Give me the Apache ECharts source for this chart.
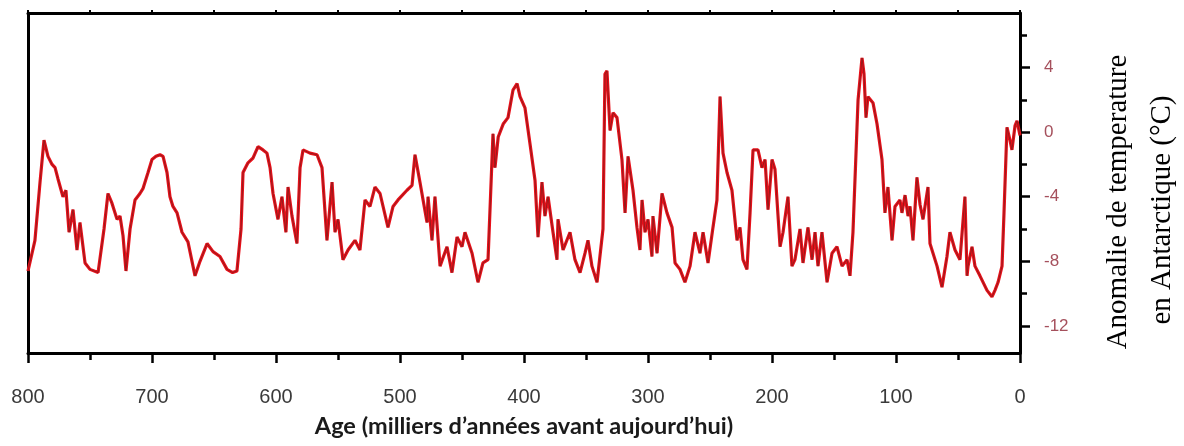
<!DOCTYPE html>
<html>
<head>
<meta charset="utf-8">
<script src="https://cdn.jsdelivr.net/npm/echarts/dist/echarts.min.js"></script>
<style>
html,body{margin:0;padding:0;background:#fff;}
#chart{width:1184px;height:446px;}
</style>
</head>
<body>
<div id="chart"></div>
<script>
// Age (thousands of years before present)
const ages = [
  800, 798.4, 794.4, 790.3, 787.1, 783.9, 780.6, 778.2, 775.8, 771.8,
  769.4, 766.9, 763.7, 760.5, 758.1, 754.0, 750.0, 743.5, 741.9, 738.7,
  735.5, 732.3, 728.2, 725.8, 723.4, 721.0, 717.7, 713.7, 709.7, 707.3,
  703.2, 700.0, 696.8, 693.5, 691.1, 687.9, 685.5, 683.1, 679.8, 675.8,
  671.0, 665.3, 661.3, 655.6, 650.8, 645.2, 639.5, 635.0, 631.5, 628.2,
  626.6, 622.6, 618.5, 614.5, 610.5, 607.3, 604.8, 602.4, 598.4, 595.2,
  592.0, 590.3, 587.1, 583.1, 580.6, 578.2, 572.6, 566.9, 562.9, 558.9,
  554.8, 552.4, 550.0, 546.0, 541.9, 536.3, 532.3, 528.2, 524.2, 520.2,
  516.1, 509.7, 505.6, 501.6, 494.4, 490.3, 487.9, 483.9, 478.2, 477.4,
  474.2, 471.8, 467.7, 462.1, 458.1, 454.0, 450.0, 447.6, 441.9, 437.1,
  433.1, 429.0, 425.0, 423.4, 420.8, 416.8, 412.9, 408.9, 405.6, 403.2,
  399.2, 395.2, 391.1, 388.7, 385.5, 383.1, 380.6, 376.6, 373.4, 372.6,
  368.5, 362.9, 358.9, 354.8, 350.8, 348.4, 345.2, 341.1, 336.3, 334.7,
  333.1, 330.6, 328.2, 325.0, 321.0, 318.5, 316.1, 312.1, 308.9, 306.5,
  304.8, 302.4, 300.0, 296.8, 296.0, 292.7, 288.7, 284.7, 280.6, 278.2,
  274.2, 270.2, 266.1, 262.1, 258.1, 255.6, 251.6, 247.6, 244.4, 241.9,
  239.5, 236.3, 232.3, 228.2, 225.8, 223.4, 220.2, 217.7, 215.3, 211.3,
  208.1, 205.6, 203.2, 200.0, 197.6, 193.5, 191.1, 187.1, 183.9, 181.5,
  177.4, 175.0, 171.0, 167.7, 165.3, 162.9, 159.7, 155.6, 151.6, 147.6,
  143.5, 139.5, 137.1, 134.7, 130.6, 127.4, 125.8, 124.2, 122.6, 118.5,
  115.3, 111.3, 108.9, 106.5, 103.2, 100.8, 96.8, 95.2, 92.7, 90.3,
  88.7, 86.3, 83.1, 80.6, 78.2, 74.2, 72.6, 66.9, 62.9, 58.9,
  56.5, 52.4, 48.4, 44.4, 42.7, 41.9, 38.7, 36.3, 32.3, 26.6,
  22.6, 20.2, 17.7, 14.5, 12.9, 10.5, 8.1, 6.5, 4.0, 2.4,
  0
];
// Antarctic temperature anomaly (°C)
const temps = [
  -8.6, -8.5, -6.7, -3.1, -0.5, -1.5, -2.0, -2.2, -2.9, -4.0,
  -3.6, -6.2, -4.8, -7.3, -5.6, -8.1, -8.5, -8.7, -8.8, -6.0,
  -3.8, -4.4, -5.4, -5.2, -6.4, -8.6, -6.0, -4.2, -3.8, -3.5,
  -2.5, -1.7, -1.5, -1.4, -1.5, -2.5, -4.0, -4.6, -5.0, -6.2,
  -6.8, -8.9, -8.0, -6.9, -7.4, -7.7, -8.5, -8.7, -8.6, -6.0,
  -2.5, -1.9, -1.6, -0.9, -1.1, -1.3, -2.2, -3.8, -5.4, -4.0,
  -6.2, -3.4, -5.2, -6.9, -2.2, -1.1, -1.3, -1.4, -2.2, -6.7,
  -3.1, -6.2, -5.4, -7.9, -7.3, -6.7, -7.3, -4.2, -4.6, -3.4,
  -3.8, -5.9, -4.6, -4.2, -3.6, -3.3, -1.4, -3.1, -5.6, -4.0,
  -6.7, -4.0, -8.3, -7.1, -8.7, -6.5, -7.1, -6.2, -7.5, -9.3,
  -8.1, -7.9, -0.1, -2.2, -0.3, 0.5, 0.9, 2.6, 3.0, 2.2,
  1.5, -0.7, -3.0, -6.5, -3.1, -5.2, -4.0, -6.2, -7.9, -5.4,
  -7.3, -6.2, -7.9, -8.7, -7.5, -6.7, -8.3, -9.3, -6.0, 3.6,
  3.8, 0.1, 1.2, 0.9, -1.7, -5.0, -1.5, -3.6, -5.9, -7.3,
  -4.2, -6.2, -5.4, -7.7, -5.2, -7.5, -3.8, -5.0, -5.9, -8.1,
  -8.5, -9.3, -8.3, -6.2, -7.5, -6.2, -8.1, -5.9, -4.2, 2.2,
  -1.3, -2.5, -3.6, -6.7, -5.9, -7.9, -8.5, -5.0, -1.1, -1.1,
  -2.2, -1.7, -4.8, -1.7, -2.3, -7.1, -6.2, -4.0, -8.3, -7.9,
  -6.0, -8.1, -5.9, -7.9, -6.2, -8.3, -6.2, -9.3, -7.5, -7.1,
  -8.3, -7.9, -8.9, -6.2, 2.0, 4.6, 3.6, 0.9, 2.2, 1.8,
  0.5, -1.7, -5.0, -3.4, -6.7, -4.6, -4.2, -5.0, -3.9, -5.2,
  -4.6, -6.7, -2.8, -4.5, -5.4, -3.4, -6.9, -8.3, -9.6, -7.7,
  -6.2, -7.3, -7.9, -4.0, -8.9, -8.3, -7.1, -8.3, -8.9, -9.8,
  -10.2, -9.8, -9.3, -8.3, -5.0, 0.3, -0.5, -1.1, 0.4, 0.7,
  -0.2
];
const yMajorTicks = [-12, -8, -4, 0, 4];
const yMinorTicks = [-10, -6, -2, 2, 6];
const xTitle = 'Age (milliers d’années avant aujourd’hui)';
const yTitle1 = 'Anomalie de temperature';
const yTitle2 = 'en Antarctique (°C)';

const seriesData = ages.map((a, i) => [a, temps[i]]);

const sansFont = '"Liberation Sans", Arial, sans-serif';
const serifFont = '"Liberation Serif", "Times New Roman", serif';

const chart = echarts.init(document.getElementById('chart'), null, {renderer: 'canvas'});
const xBase = {
  type: 'value', min: 0, max: 800, interval: 100, inverse: true,
  splitLine: {show: false}
};
const yBase = {type: 'value', min: -13.68, max: 7.38, splitLine: {show: false}};
chart.setOption({
  animation: false,
  backgroundColor: '#ffffff',
  grid: {left: 28, right: 164, top: 13, bottom: 93},
  xAxis: [
    Object.assign({}, xBase, {
      position: 'bottom',
      axisLine: {show: true, onZero: false, lineStyle: {color: '#000', width: 3}},
      axisTick: {show: true, length: 10, lineStyle: {color: '#000', width: 2.5}},
      minorTick: {show: true, splitNumber: 2, length: 7, lineStyle: {color: '#000', width: 2.5}},
      axisLabel: {margin: 34, fontSize: 20, fontFamily: sansFont, color: '#3a3a3a'},
      name: xTitle, nameLocation: 'middle', nameGap: 61,
      nameTextStyle: {fontFamily: 'Lato, sans-serif', fontWeight: 'bold', fontSize: 23.5, color: '#1a1a1a'}
    }),
    Object.assign({}, xBase, {
      position: 'top',
      axisLine: {show: true, onZero: false, lineStyle: {color: '#000', width: 3}},
      axisTick: {show: true, length: 3, lineStyle: {color: '#000', width: 2}},
      minorTick: {show: true, splitNumber: 2, length: 3, lineStyle: {color: '#000', width: 2}},
      axisLabel: {show: false}
    })
  ],
  yAxis: [
    Object.assign({}, yBase, {
      position: 'right', offset: 0,
      axisLine: {show: true, onZero: false, lineStyle: {color: '#000', width: 3}},
      axisTick: {show: true, length: 10, customValues: yMajorTicks, lineStyle: {color: '#000', width: 2.5}},
      axisLabel: {show: true, customValues: yMajorTicks, margin: 24, fontSize: 17,
        fontFamily: sansFont, color: '#a5505c'}
    }),
    Object.assign({}, yBase, {
      position: 'right', offset: 0,
      axisLine: {show: false},
      axisTick: {show: true, length: 7, customValues: yMinorTicks, lineStyle: {color: '#000', width: 2.5}},
      axisLabel: {show: false}
    }),
    Object.assign({}, yBase, {
      position: 'left', offset: 0,
      axisLine: {show: true, onZero: false, lineStyle: {color: '#000', width: 3}},
      axisTick: {show: false},
      axisLabel: {show: false}
    })
  ],
  graphic: [
    {type: 'text', x: 1118, y: 202, rotation: Math.PI / 2,
     style: {text: yTitle1, fontFamily: serifFont, fontSize: 29,
       fill: '#000', align: 'center', verticalAlign: 'middle'}},
    {type: 'text', x: 1162, y: 210, rotation: Math.PI / 2,
     style: {text: yTitle2, fontFamily: serifFont, fontSize: 29,
       fill: '#000', align: 'center', verticalAlign: 'middle'}}
  ],
  series: [
    {type: 'line', xAxisIndex: 0, yAxisIndex: 0, data: seriesData, showSymbol: false, silent: true,
     lineStyle: {color: '#e8101a', width: 3.2}},
    {type: 'line', xAxisIndex: 0, yAxisIndex: 0, data: seriesData, showSymbol: false, silent: true,
     lineStyle: {color: '#8a1c1c', width: 1, opacity: 0.85}}
  ]
});
</script>
</body>
</html>
